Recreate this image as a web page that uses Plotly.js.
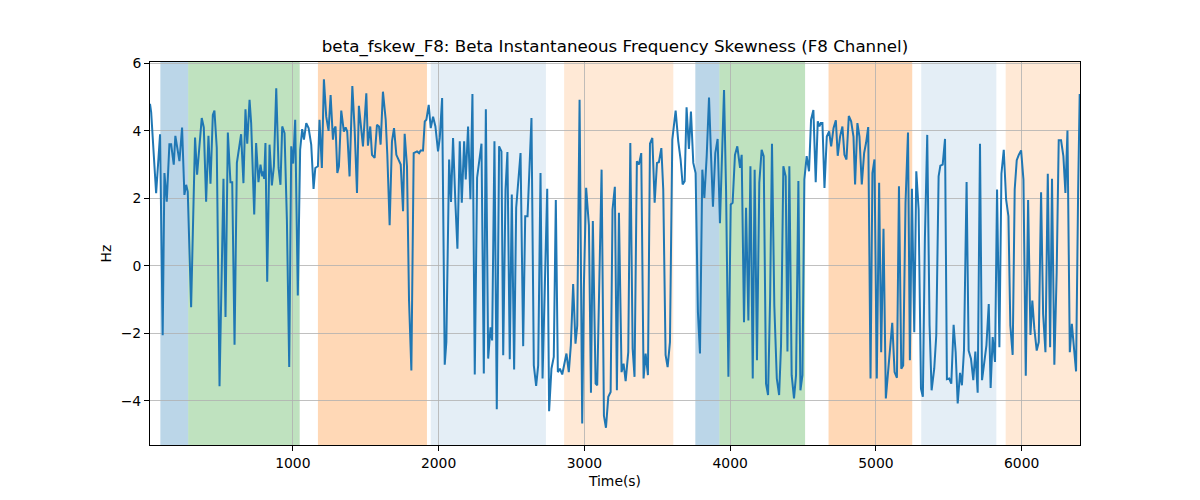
<!DOCTYPE html>
<html>
<head>
<meta charset="utf-8">
<script src="https://cdn.plot.ly/plotly-3.0.1.min.js"></script>
<style>
  html, body { margin: 0; padding: 0; background: #fff; }
  #chart { width: 1200px; height: 500px; }
</style>
</head>
<body>
<div id="chart"></div>
<script>
// Beta instantaneous frequency skewness, F8 channel
const timeS = [
  20, 28, 62, 89, 107, 119, 135, 153, 165, 183, 194, 222, 240, 256, 268, 279, 302, 329, 343, 375,
  389, 405, 421, 435, 451, 462, 478, 497, 524, 538, 554, 572, 584, 600, 616, 645, 661, 675, 687, 703,
  714, 735, 748, 764, 778, 790, 796, 803, 812, 824, 840, 856, 870, 886, 902, 915, 927, 943, 959, 975,
  989, 1002, 1016, 1034, 1050, 1064, 1076, 1092, 1108, 1126, 1142, 1154, 1172, 1183, 1199, 1213, 1229, 1245, 1259, 1275,
  1282, 1293, 1305, 1316, 1332, 1350, 1362, 1373, 1389, 1408, 1424, 1440, 1453, 1481, 1504, 1515, 1531, 1543, 1561, 1577,
  1591, 1602, 1618, 1637, 1648, 1664, 1680, 1694, 1710, 1726, 1740, 1756, 1767, 1783, 1797, 1813, 1829, 1852, 1866, 1877,
  1893, 1905, 1916, 1932, 1946, 1962, 1978, 1996, 2008, 2024, 2042, 2053, 2072, 2085, 2099, 2115, 2129, 2145, 2159, 2175,
  2186, 2202, 2218, 2232, 2248, 2264, 2294, 2310, 2324, 2340, 2356, 2367, 2383, 2399, 2415, 2431, 2443, 2459, 2472, 2488,
  2502, 2518, 2532, 2562, 2580, 2594, 2610, 2637, 2653, 2669, 2683, 2699, 2713, 2745, 2758, 2774, 2790, 2804, 2818, 2832,
  2848, 2877, 2893, 2907, 2923, 2939, 2951, 2967, 2985, 2996, 3012, 3031, 3045, 3058, 3077, 3088, 3118, 3134, 3148, 3164,
  3180, 3193, 3209, 3223, 3237, 3255, 3269, 3283, 3301, 3315, 3331, 3344, 3360, 3374, 3390, 3406, 3420, 3436, 3450, 3466,
  3482, 3498, 3511, 3528, 3541, 3557, 3571, 3587, 3603, 3626, 3644, 3660, 3674, 3688, 3701, 3717, 3731, 3747, 3763, 3779,
  3793, 3809, 3823, 3839, 3855, 3869, 3882, 3898, 3914, 3930, 3946, 3958, 3972, 3988, 4004, 4017, 4033, 4049, 4068, 4079,
  4095, 4109, 4125, 4139, 4155, 4168, 4184, 4200, 4216, 4230, 4246, 4260, 4274, 4287, 4303, 4320, 4336, 4349, 4365, 4381,
  4393, 4406, 4422, 4438, 4452, 4468, 4482, 4496, 4509, 4525, 4541, 4555, 4571, 4587, 4601, 4612, 4622, 4633, 4647, 4663,
  4679, 4693, 4709, 4725, 4738, 4754, 4770, 4784, 4798, 4814, 4830, 4846, 4857, 4873, 4887, 4903, 4919, 4933, 4947, 4963,
  4976, 4990, 5006, 5022, 5036, 5052, 5068, 5087, 5112, 5128, 5144, 5158, 5174, 5187, 5203, 5220, 5233, 5247, 5263, 5277,
  5293, 5309, 5322, 5336, 5352, 5368, 5382, 5400, 5414, 5430, 5442, 5458, 5474, 5487, 5503, 5517, 5533, 5547, 5561, 5577,
  5590, 5604, 5622, 5636, 5652, 5668, 5682, 5698, 5714, 5728, 5744, 5758, 5774, 5787, 5801, 5817, 5831, 5847, 5861, 5877,
  5893, 5909, 5922, 5938, 5952, 5966, 5980, 5996, 6012, 6028, 6044, 6060, 6073, 6087, 6103, 6117, 6133, 6147, 6163, 6179,
  6195, 6208, 6224, 6240, 6254, 6270, 6286, 6300, 6314, 6330, 6344, 6357, 6373, 6387, 6398
];
const skewHz = [
  4.8, 4.55, 2.15, 3.9, -2.06, 2.75, 1.9, 3.6, 3.6, 3.0, 3.85, 3.1, 4.1, 2.1, 2.4, 2.2, -1.23, 3.8, 2.7, 4.38,
  4.1, 1.9, 3.85, 2.43, 4.47, 4.6, 3.5, -3.57, 2.58, -1.52, 3.95, 2.48, 2.48, -2.34, 3.05, 3.9, 2.45, 4.64, 3.62, 4.92,
  4.23, 1.52, 3.64, 2.48, 3.0, 2.65, 2.8, 2.58, 3.64, -0.47, 3.59, 2.38, 2.95, 5.26, 2.9, 2.4, 4.13, 3.93, 1.38, -3.0,
  3.54, 3.03, 4.33, -0.88, 3.44, 4.05, 3.74, 4.23, 4.08, 3.59, 2.28, 2.9, 2.95, 4.33, 2.9, 5.53, 4.42, 4.0, 5.06, 3.74,
  4.03, 4.13, 2.75, 2.95, 4.6, 3.98, 4.1, 3.98, 2.65, 5.33, 4.03, 2.16, 4.74, 3.54, 5.11, 3.56, 4.13, 3.29, 3.2, 4.18,
  4.13, 3.59, 5.16, 4.33, 3.29, 1.2, 3.69, 4.08, 3.29, 3.15, 3.0, 1.62, 3.91, 2.95, -1.03, -3.1, 3.34, 3.39, 3.34, 3.42,
  3.42, 4.28, 4.33, 4.77, 4.08, 4.42, 4.13, 3.39, 3.79, 4.97, -2.93, -2.26, 3.15, 1.89, 3.79, 1.87, 0.51, 3.69, 1.87, 3.69,
  2.56, 4.13, 1.97, 5.09, -3.22, 2.61, 3.62, -3.19, 4.64, -2.75, -1.82, -2.21, 3.69, -4.25, 3.54, 3.39, -2.65, 2.26, 3.37, -2.77,
  2.11, -3.07, 1.72, 3.34, -2.38, 1.47, 1.47, 4.38, -2.95, -3.56, -2.95, 2.75, -3.34, 2.28, -4.31, -3.05, -2.7, 1.95, -3.15, -3.05,
  -3.22, -2.6, -3.15, -2.36, -0.54, -2.31, -1.77, 4.92, -4.67, -0.69, 2.31, 1.2, -3.76, 1.33, -3.49, -3.54, 2.85, -4.44, -4.8, -3.88,
  -3.74, 1.67, 2.34, -3.69, 1.57, -3.15, -2.9, -3.42, -2.56, 3.64, -2.46, -3.29, 3.1, 3.0, 3.34, -3.34, -2.6, -3.24, 3.62, 3.79,
  1.87, 3.05, 3.07, 3.49, 2.26, -2.64, -3.0, -2.26, 3.74, 4.6, 3.69, 3.15, 2.41, 2.51, 4.7, 3.46, 4.57, 3.05, 2.75, -1.38,
  -2.6, 2.85, 2.01, 3.25, 4.99, 3.25, 1.75, 3.34, 3.76, 1.26, 4.03, 5.21, 2.21, -3.29, 1.82, 1.87, 3.29, 3.54, 2.9, 3.29,
  -1.67, 1.72, -1.62, 2.95, -3.34, 2.85, -2.8, 2.46, 3.44, 3.25, -3.49, -3.83, -0.98, 3.62, -1.18, -3.34, -3.83, -2.36, 2.95, 2.65,
  -2.54, 2.95, -3.24, -3.93, -3.24, 2.51, -3.69, -3.24, 2.56, 3.25, 2.8, 4.33, 4.62, 2.48, 4.28, 4.13, 4.23, 4.23, 2.31, 3.83,
  3.98, 3.54, 4.08, 4.31, 3.26, 3.83, 4.13, 3.29, 3.15, 4.44, 4.28, 3.83, 2.41, 4.23, 3.83, 2.41, 3.34, 3.66, 4.11, -3.34,
  2.75, 3.15, -3.34, 2.46, -2.56, 1.1, -3.93, -3.0, -1.69, -3.15, -3.32, 2.36, -3.05, -2.95, 1.87, 3.95, -2.8, 2.28, -1.97, 2.8,
  1.67, -3.64, -3.88, 0.81, 3.88, -1.77, -3.69, -3.05, -2.06, 2.65, 2.97, 3.0, 3.76, -3.36, -3.34, -3.49, -1.75, -2.56, -4.08, -3.17,
  -3.54, -2.51, 2.48, -2.51, -2.75, -3.39, -2.54, -3.76, 3.62, -3.39, -2.75, -2.36, -1.13, -3.62, -2.11, -2.85, 2.26, -2.41, 2.73, 3.44,
  1.97, 1.47, -1.77, -2.64, 2.26, 3.13, 3.29, 3.42, 2.56, -3.26, 1.95, -2.05, -1.03, -1.87, -2.51, -2.26, 2.18, -1.43, -2.56, 2.73,
  -2.41, 2.58, -2.93, -0.2, 3.72, 3.72, 3.25, 2.16, 4.01, -2.56, -1.72, -2.41, -3.13, 2.16, 5.09
];

// Shaded time spans (s) and which colour group they belong to
const spanStart = [91, 282, 1172, 1946, 2861, 3761, 3926, 4675, 5311, 5890];
const spanEnd   = [282, 1047, 1920, 2736, 3610, 3926, 4514, 5249, 5826, 6410];
const spanKind  = ['blue', 'green', 'orange', 'paleBlue', 'paleOrange', 'blue', 'green', 'orange', 'paleBlue', 'paleOrange'];

const spanFill = {
  blue: 'rgba(31,119,180,0.3)',
  green: 'rgba(44,160,44,0.3)',
  orange: 'rgba(255,127,14,0.3)',
  paleBlue: 'rgba(31,119,180,0.12)',
  paleOrange: 'rgba(255,127,14,0.17)'
};

const shapes = spanStart.map((s, i) => ({
  type: 'rect', xref: 'x', yref: 'paper', x0: s, x1: spanEnd[i], y0: 0, y1: 1,
  fillcolor: spanFill[spanKind[i]], line: { width: 0 }, layer: 'below'
}));

const font = { family: 'DejaVu Sans, sans-serif', color: '#000' };

const layout = {
  width: 1200, height: 500,
  margin: { l: 150, r: 120, t: 62, b: 55 },
  paper_bgcolor: '#fff', plot_bgcolor: '#fff',
  font: { ...font, size: 13.9 },
  showlegend: false,
  title: {
    text: 'beta_fskew_F8: Beta Instantaneous Frequency Skewness (F8 Channel)',
    font: { ...font, size: 16.7 },
    x: 0.5, xref: 'paper', xanchor: 'center',
    y: 0.908, yref: 'container', yanchor: 'middle'
  },
  xaxis: {
    range: [20, 6400],
    tickvals: [1000, 2000, 3000, 4000, 5000, 6000],
    ticks: 'outside', ticklen: 5, tickcolor: '#000', tickwidth: 1,
    showline: true, mirror: true, linecolor: '#000', linewidth: 1,
    showgrid: true, gridcolor: '#b0b0b0', gridwidth: 0.8,
    zeroline: false,
    title: { text: 'Time(s)', font: { ...font, size: 13.9 }, standoff: 6 }
  },
  yaxis: {
    range: [-5.31, 6.04],
    tickvals: [-4, -2, 0, 2, 4, 6],
    ticks: 'outside', ticklen: 5, tickcolor: '#000', tickwidth: 1,
    showline: true, mirror: true, linecolor: '#000', linewidth: 1,
    showgrid: true, gridcolor: '#b0b0b0', gridwidth: 0.8,
    zeroline: false,
    title: { text: 'Hz', font: { ...font, size: 13.9 }, standoff: 5 }
  },
  shapes
};

Plotly.newPlot('chart', [{
  type: 'scatter', mode: 'lines', name: 'beta_fskew_F8',
  x: timeS, y: skewHz,
  line: { color: '#1f77b4', width: 2 }
}], layout, { displayModeBar: false, staticPlot: true });
</script>
</body>
</html>
